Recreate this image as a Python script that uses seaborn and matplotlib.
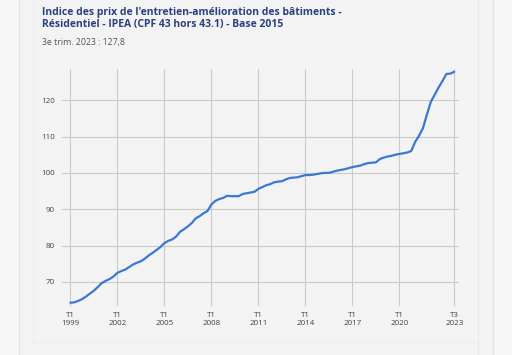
#Indice des prix de l'entretien-amelioration des batiments (IPEA), base 2015
import pandas as pd
import matplotlib.pyplot as plt
import seaborn as sns
from matplotlib.patches import Rectangle

# quarterly values, T1 1999 -> T3 2023
indice = [64.3, 64.4, 64.8, 65.3,   # 1999
          66.0, 66.8, 67.6, 68.6,   # 2000
          69.7, 70.3, 70.8, 71.5,   # 2001
          72.5, 73.0, 73.4, 74.1,   # 2002
          74.8, 75.3, 75.7, 76.4,   # 2003
          77.3, 78.0, 78.8, 79.6,   # 2004
          80.7, 81.3, 81.7, 82.5,   # 2005
          83.8, 84.5, 85.3, 86.2,   # 2006
          87.5, 88.1, 88.9, 89.5,   # 2007
          91.3, 92.3, 92.8, 93.1,   # 2008
          93.7, 93.6, 93.6, 93.6,   # 2009
          94.2, 94.4, 94.6, 94.8,   # 2010
          95.6, 96.1, 96.6, 96.9,   # 2011
          97.4, 97.6, 97.7, 98.2,   # 2012
          98.6, 98.7, 98.8, 99.1,   # 2013
          99.4, 99.4, 99.5, 99.7,   # 2014
          99.9, 100.0, 100.0, 100.3,  # 2015
          100.6, 100.8, 101.0, 101.3,  # 2016
          101.6, 101.8, 102.0, 102.4,  # 2017
          102.7, 102.8, 102.9, 103.8,  # 2018
          104.2, 104.5, 104.7, 105.0,  # 2019
          105.2, 105.4, 105.6, 106.0,  # 2020
          108.5, 110.2, 112.3, 116.0,  # 2021
          119.5, 121.5, 123.5, 125.3,  # 2022
          127.2, 127.3, 127.8]         # 2023

tick_pos = [0, 12, 24, 36, 48, 60, 72, 84, 98]
tick_labels = ["T1\n1999", "T1\n2002", "T1\n2005", "T1\n2008", "T1\n2011",
               "T1\n2014", "T1\n2017", "T1\n2020", "T3\n2023"]
y_ticks = [70, 80, 90, 100, 110, 120]

df = pd.DataFrame({"trimestre": range(len(indice)), "indice": indice})

sns.set_style("whitegrid")
plt.rcParams['font.family'] = ['Open Sans', 'DejaVu Sans']

fig = plt.figure(figsize=(5.12, 3.55), dpi=100, facecolor="#f3f3f3")

# page / card borders
fig.patches.append(Rectangle((0, 0), 19 / 512, 1, transform=fig.transFigure,
                             facecolor="#f7f7f7", edgecolor="none", zorder=0))
fig.patches.append(Rectangle((493 / 512, 0), 19 / 512, 1, transform=fig.transFigure,
                             facecolor="#f6f6f6", edgecolor="none", zorder=0))
fig.add_artist(plt.Line2D([19 / 512] * 2, [0, 1], color="#e4e4e4", lw=0.8))
fig.add_artist(plt.Line2D([478 / 512] * 2, [0, 1], color="#e8e8e8", lw=0.8))
fig.add_artist(plt.Line2D([493 / 512] * 2, [0, 1], color="#e2e2e2", lw=0.8))
fig.add_artist(plt.Line2D([33 / 512] * 2, [13 / 355, 1], color="#ebebeb", lw=0.6))
fig.add_artist(plt.Line2D([33 / 512, 478 / 512], [13 / 355] * 2, color="#ebebeb", lw=0.6))

ax = fig.add_axes([61.7 / 512, 1 - 306 / 355, (459 - 61.7) / 512, (306 - 68.5) / 355])
ax.set_facecolor("#f3f3f3")

sns.lineplot(data=df, x="trimestre", y="indice", color="#3b78d2", linewidth=1.6, ax=ax)

ax.set_xlim(-2.2, 99.2)
ax.set_ylim(63.4, 128.7)
ax.set_xticks(tick_pos)
ax.set_xticklabels(tick_labels)
ax.set_yticks(y_ticks)
ax.grid(True, color="#cacaca", linewidth=0.8)
for s in ax.spines.values():
    s.set_visible(False)
ax.tick_params(axis="both", length=0, labelsize=5.8, colors="#444444")
ax.tick_params(axis="x", pad=4)
ax.tick_params(axis="y", pad=5)
ax.set_xlabel("")
ax.set_ylabel("")

fig.text(42 / 512, 1 - 12.5 / 355,
         "Indice des prix de l'entretien-amélioration des bâtiments -",
         fontsize=7.5, fontweight="bold", color="#2a4080", va="center")
fig.text(42 / 512, 1 - 24.5 / 355,
         "Résidentiel - IPEA (CPF 43 hors 43.1) - Base 2015",
         fontsize=7.5, fontweight="bold", color="#2a4080", va="center")
fig.text(42 / 512, 1 - 42.5 / 355, "3e trim. 2023 : 127,8",
         fontsize=6.3, color="#555555", va="center")

fig.savefig("out.png", dpi=100, facecolor=fig.get_facecolor())
